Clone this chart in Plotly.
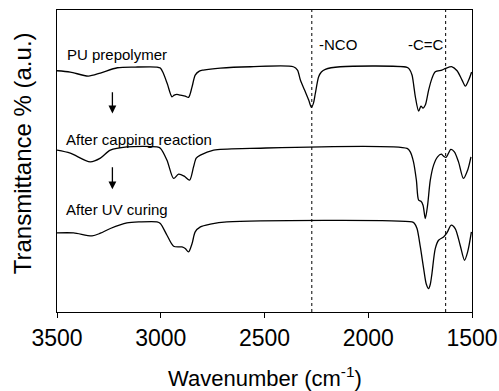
import plotly.graph_objects as go

# ---- data (wavenumber in cm^-1, transmittance in arbitrary offset units) ----
wn_pu = [3500, 3436, 3349, 3291, 3209, 3123, 3018, 3002, 2988, 2968, 2946, 2935, 2922, 2906, 2882, 2866,
         2849, 2834, 2814, 2795, 2713, 2568, 2361, 2341, 2327, 2307, 2287, 2274, 2264, 2255, 2239, 2226,
         2207, 2135, 1813, 1802, 1789, 1781, 1773, 1757, 1746, 1736, 1725, 1709, 1693, 1677, 1645, 1627,
         1596, 1572, 1548, 1532, 1516, 1502]
t_pu = [241.0, 239.7, 235.7, 238.7, 244.0, 244.7, 244.7, 243.7, 238.7, 227.7, 215.0, 216.7, 217.4, 216.7,
        215.7, 214.4, 225.0, 236.7, 240.7, 241.7, 243.7, 245.0, 245.0, 241.7, 231.7, 221.7, 211.7, 204.4,
        208.7, 218.4, 235.0, 239.7, 242.4, 245.0, 244.4, 242.7, 236.7, 226.7, 215.0, 200.7, 205.7, 203.7,
        206.7, 221.7, 233.4, 240.0, 241.7, 243.4, 245.0, 241.0, 231.7, 225.7, 231.7, 239.7]

wn_cap = [3500, 3436, 3340, 3291, 3243, 3163, 3018, 3002, 2970, 2938, 2914, 2887, 2861, 2842, 2829, 2809,
          2745, 2568, 1813, 1797, 1782, 1768, 1757, 1746, 1736, 1725, 1714, 1701, 1685, 1666, 1648, 1637,
          1625, 1602, 1585, 1565, 1541, 1521, 1505]
t_cap = [161.7, 158.7, 150.0, 153.7, 161.7, 165.0, 165.0, 163.7, 151.7, 133.4, 137.7, 135.7, 131.7, 145.0,
         153.7, 156.7, 161.7, 163.4, 163.4, 159.7, 150.0, 131.7, 111.7, 110.7, 106.7, 93.4, 106.7, 131.7,
         146.7, 155.0, 157.7, 155.7, 154.4, 162.4, 160.0, 150.0, 133.4, 141.7, 155.0]

wn_uv = [3500, 3420, 3331, 3291, 3243, 3163, 3099, 3018, 3002, 2970, 2938, 2898, 2882, 2866, 2849, 2834,
         2809, 2761, 2681, 1789, 1778, 1765, 1749, 1733, 1720, 1709, 1701, 1693, 1677, 1661, 1637, 1621,
         1600, 1581, 1557, 1536, 1521, 1503]
t_uv = [79.0, 79.0, 76.0, 78.7, 83.4, 89.0, 90.0, 90.0, 88.4, 76.7, 65.7, 65.0, 63.4, 60.0, 68.4, 80.0,
        85.0, 87.7, 90.0, 90.0, 88.7, 83.4, 65.0, 43.4, 27.7, 23.4, 27.7, 38.4, 63.4, 71.7, 75.0, 79.0,
        86.7, 83.4, 66.7, 51.7, 60.0, 80.0]

band_positions = [2272, 1627]
band_labels = ["-NCO", "-C=C"]
band_label_x = [2247, 1817]

series_labels = ["PU prepolymer", "After capping reaction", "After UV curing"]
label_x = [3460, 3468, 3468]
label_y = [257.7, 172.5, 102.5]

arrow_x = [3233, 3233]
arrow_tail = [221.0, 146.0]
arrow_tip = [198.4, 122.7]

x_ticks = [3500, 3000, 2500, 2000, 1500]

FONT = "Liberation Sans, Arial, sans-serif"

fig = go.Figure()
for wn, t in [(wn_pu, t_pu), (wn_cap, t_cap), (wn_uv, t_uv)]:
    fig.add_trace(go.Scatter(x=wn, y=t, mode="lines",
                             line=dict(color="black", width=1.3, shape="spline", smoothing=0.8),
                             showlegend=False, hoverinfo="skip"))

for xb in band_positions:
    fig.add_shape(type="line", xref="x", yref="paper", x0=xb, x1=xb, y0=0, y1=1,
                  line=dict(color="black", width=1, dash="dot"))

annotations = []
for txt, xx in zip(band_labels, band_label_x):
    annotations.append(dict(x=xx, y=267.7, xref="x", yref="y", text=txt, showarrow=False,
                            xanchor="left", yanchor="middle", font=dict(family=FONT, size=15, color="black")))
for txt, xx, yy in zip(series_labels, label_x, label_y):
    annotations.append(dict(x=xx, y=yy, xref="x", yref="y", text=txt, showarrow=False,
                            xanchor="left", yanchor="middle", font=dict(family=FONT, size=15, color="black")))
for xx, y0, y1 in zip(arrow_x, arrow_tail, arrow_tip):
    annotations.append(dict(x=xx, y=y1, ax=xx, ay=y0, xref="x", yref="y", axref="x", ayref="y",
                            text="", showarrow=True, arrowhead=2, arrowsize=1.2, arrowwidth=1.3,
                            arrowcolor="black"))
annotations.append(dict(x=0.5, y=-0.214, xref="paper", yref="paper", showarrow=False,
                        text="Wavenumber (cm<sup>-1</sup>)", xanchor="center", yanchor="middle",
                        font=dict(family=FONT, size=22, color="black")))
annotations.append(dict(x=-0.083, y=0.524, xref="paper", yref="paper", showarrow=False,
                        text="Transmittance % (a.u.)", textangle=-90, xanchor="center", yanchor="middle",
                        font=dict(family=FONT, size=24, color="black")))

fig.update_layout(
    width=499, height=391, autosize=False,
    margin=dict(l=57, r=27, t=10, b=79),
    paper_bgcolor="white", plot_bgcolor="white",
    annotations=annotations,
    xaxis=dict(range=[3500, 1500], tickvals=x_ticks, ticktext=[str(v) for v in x_ticks],
               ticks="outside", ticklen=5, tickwidth=1, tickcolor="black",
               showline=True, linecolor="black", linewidth=1.2, mirror=True,
               showgrid=False, zeroline=False, automargin=False,
               tickfont=dict(family=FONT, size=23, color="black")),
    yaxis=dict(range=[0, 301.7], showticklabels=False, ticks="",
               showline=True, linecolor="black", linewidth=1.2, mirror=True,
               showgrid=False, zeroline=False, automargin=False),
)

fig.write_html("out.html",
               config={"displayModeBar": False, "staticPlot": True},
               post_script="document.body.style.margin='0';document.body.style.padding='0';"
                           "document.body.style.overflow='hidden';")
